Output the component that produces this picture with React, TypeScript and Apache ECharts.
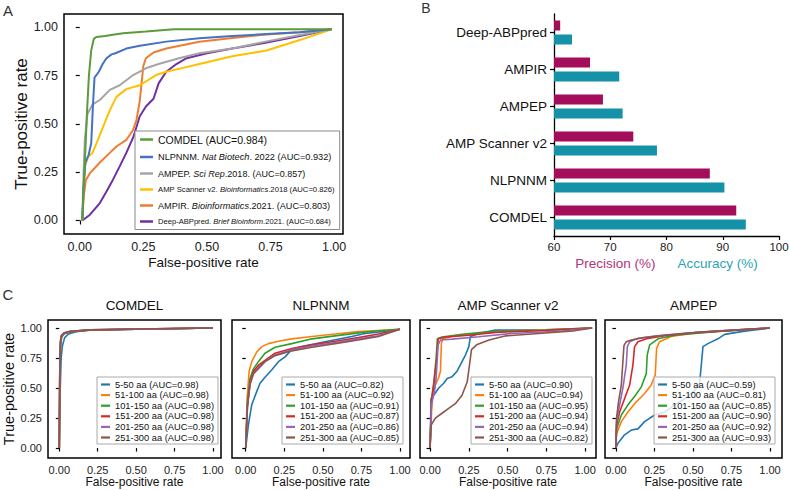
import React, { useEffect, useRef } from "react";
import * as echarts from "echarts";

const FONT = "'Liberation Sans', Arial, Helvetica, sans-serif";
const TICKS = [0, 0.25, 0.5, 0.75, 1];

// ---------------- Panel A ----------------
const A_COLORS = ["#5b9b3b", "#4472c4", "#a5a5a5", "#ffc000", "#ed7d31", "#7030a0"];
const A_LEGEND_PARTS: [string, string, string][] = [
  ["COMDEL (AUC=0.984)", "", ""],
  ["NLPNNM. ", "Nat Biotech", ". 2022 (AUC=0.932)"],
  ["AMPEP. ", "Sci Rep", ".2018. (AUC=0.857)"],
  ["AMP Scanner v2. ", "Bioinformatics", ".2018 (AUC=0.826)"],
  ["AMPIR. ", "Bioinformatics", ".2021. (AUC=0.803)"],
  ["Deep-ABPpred. ", "Brief Bioinform", ".2021. (AUC=0.684)"],
];
const A_LEGEND_FONT = [10.5, 9.2, 9.0, 7.7, 9.1, 7.6];

const A_COMDEL = [[0.01, 0], [0.015, 0.15], [0.02, 0.3], [0.028, 0.55], [0.036, 0.75], [0.045, 0.88], [0.055, 0.94], [0.065, 0.95], [0.1, 0.955], [0.13, 0.962], [0.17, 0.969], [0.26, 0.978], [0.37, 0.99], [0.6, 0.99], [0.99, 0.99]];
const A_NLPNNM = [[0.01, 0], [0.015, 0.18], [0.022, 0.3], [0.035, 0.34], [0.045, 0.4], [0.052, 0.6], [0.058, 0.74], [0.075, 0.77], [0.09, 0.81], [0.105, 0.84], [0.125, 0.86], [0.14, 0.866], [0.183, 0.89], [0.236, 0.905], [0.34, 0.926], [0.47, 0.943], [0.6, 0.955], [0.734, 0.965], [0.865, 0.975], [0.99, 0.99]];
const A_AMPEP = [[0.01, 0], [0.015, 0.25], [0.02, 0.42], [0.03, 0.55], [0.05, 0.6], [0.08, 0.625], [0.118, 0.676], [0.157, 0.7], [0.21, 0.753], [0.26, 0.788], [0.31, 0.81], [0.39, 0.84], [0.47, 0.866], [0.6, 0.89], [0.73, 0.926], [0.865, 0.96], [0.99, 0.99]];
const A_AMPSCANNER = [[0.01, 0], [0.015, 0.15], [0.02, 0.28], [0.033, 0.33], [0.05, 0.35], [0.066, 0.4], [0.092, 0.486], [0.118, 0.57], [0.144, 0.64], [0.183, 0.68], [0.236, 0.7], [0.3, 0.753], [0.34, 0.77], [0.406, 0.79], [0.47, 0.81], [0.6, 0.85], [0.734, 0.88], [0.865, 0.934], [0.99, 0.99]];
const A_AMPIR = [[0.01, 0], [0.015, 0.12], [0.024, 0.21], [0.04, 0.245], [0.079, 0.3], [0.118, 0.35], [0.144, 0.383], [0.183, 0.417], [0.21, 0.47], [0.223, 0.52], [0.236, 0.62], [0.243, 0.71], [0.25, 0.8], [0.26, 0.84], [0.29, 0.87], [0.34, 0.89], [0.47, 0.925], [0.6, 0.945], [0.71, 0.96], [0.865, 0.975], [0.99, 0.99]];
const A_DEEPABP = [[0.01, 0], [0.04, 0.03], [0.079, 0.09], [0.105, 0.15], [0.13, 0.21], [0.157, 0.28], [0.183, 0.35], [0.21, 0.43], [0.236, 0.54], [0.26, 0.59], [0.29, 0.63], [0.31, 0.71], [0.34, 0.77], [0.38, 0.81], [0.42, 0.84], [0.5, 0.866], [0.6, 0.89], [0.73, 0.92], [0.865, 0.955], [0.99, 0.99]];
const A_CURVES = [A_COMDEL, A_NLPNNM, A_AMPEP, A_AMPSCANNER, A_AMPIR, A_DEEPABP];

// ---------------- Panel B ----------------
const B_CATEGORIES = ["COMDEL", "NLPNNM", "AMP Scanner v2", "AMPEP", "AMPIR", "Deep-ABPpred"];
const B_PRECISION = [92.4, 87.7, 74.1, 68.7, 66.4, 61.1];
const B_ACCURACY = [94.1, 90.3, 78.3, 72.2, 71.6, 63.2];
const B_TICKS = [60, 70, 80, 90, 100];

// ---------------- Panel C ----------------
const C_TITLES = ["COMDEL", "NLPNNM", "AMP Scanner v2", "AMPEP"];
const C_RANGES = ["5-50 aa", "51-100 aa", "101-150 aa", "151-200 aa", "201-250 aa", "251-300 aa"];
const C_COLORS = ["#1f77b4", "#ff7f0e", "#2ca02c", "#d62728", "#9467bd", "#8c564b"];
const C_AUC = [
  ["0.98", "0.98", "0.98", "0.98", "0.98", "0.98"],
  ["0.82", "0.92", "0.91", "0.87", "0.86", "0.85"],
  ["0.90", "0.94", "0.95", "0.94", "0.94", "0.82"],
  ["0.59", "0.81", "0.85", "0.90", "0.92", "0.93"],
];
const C_COMDEL = [
  [[0, 0], [0.004, 0.4], [0.012, 0.75], [0.02, 0.85], [0.035, 0.92], [0.06, 0.95], [0.11, 0.97], [0.2, 0.983], [0.5, 0.99], [1, 1]],
  [[0, 0], [0.003, 0.6], [0.008, 0.88], [0.015, 0.93], [0.03, 0.955], [0.07, 0.97], [0.2, 0.985], [0.5, 0.992], [1, 1]],
  [[0, 0], [0.003, 0.55], [0.008, 0.86], [0.016, 0.925], [0.03, 0.95], [0.07, 0.968], [0.2, 0.983], [0.5, 0.99], [1, 1]],
  [[0, 0], [0.003, 0.6], [0.008, 0.87], [0.015, 0.93], [0.03, 0.955], [0.07, 0.97], [0.2, 0.984], [0.5, 0.991], [1, 1]],
  [[0, 0], [0.003, 0.62], [0.007, 0.88], [0.014, 0.935], [0.03, 0.957], [0.07, 0.972], [0.2, 0.985], [0.5, 0.991], [1, 1]],
  [[0, 0], [0.003, 0.65], [0.007, 0.89], [0.013, 0.94], [0.03, 0.96], [0.07, 0.973], [0.2, 0.985], [0.5, 0.992], [1, 1]],
];
const C_NLPNNM = [
  [[0, 0], [0.017, 0.19], [0.039, 0.36], [0.071, 0.47], [0.093, 0.54], [0.125, 0.59], [0.168, 0.65], [0.212, 0.72], [0.255, 0.76], [0.298, 0.82], [0.363, 0.845], [0.514, 0.886], [0.687, 0.93], [0.773, 0.955], [0.881, 0.97], [1, 0.99]],
  [[0, 0], [0.009, 0.41], [0.022, 0.64], [0.039, 0.72], [0.071, 0.8], [0.104, 0.845], [0.147, 0.87], [0.212, 0.89], [0.298, 0.91], [0.43, 0.93], [0.579, 0.95], [0.73, 0.97], [0.86, 0.98], [1, 0.99]],
  [[0, 0], [0.011, 0.39], [0.028, 0.58], [0.05, 0.66], [0.082, 0.72], [0.125, 0.79], [0.19, 0.84], [0.298, 0.87], [0.43, 0.91], [0.579, 0.935], [0.73, 0.96], [0.86, 0.978], [1, 0.99]],
  [[0, 0], [0.011, 0.36], [0.028, 0.55], [0.05, 0.64], [0.082, 0.69], [0.125, 0.73], [0.19, 0.79], [0.298, 0.83], [0.43, 0.86], [0.579, 0.89], [0.73, 0.92], [0.86, 0.95], [1, 0.99]],
  [[0, 0], [0.011, 0.35], [0.028, 0.54], [0.05, 0.62], [0.082, 0.66], [0.125, 0.72], [0.19, 0.775], [0.298, 0.82], [0.43, 0.85], [0.579, 0.88], [0.73, 0.91], [0.86, 0.935], [1, 0.99]],
  [[0, 0], [0.011, 0.34], [0.028, 0.53], [0.05, 0.62], [0.082, 0.67], [0.125, 0.72], [0.19, 0.77], [0.298, 0.81], [0.43, 0.84], [0.579, 0.87], [0.73, 0.9], [0.86, 0.93], [1, 0.99]],
];
const C_AMPSCANNER = [
  [[0, 0], [0.006, 0.41], [0.024, 0.44], [0.056, 0.5], [0.088, 0.54], [0.11, 0.58], [0.142, 0.595], [0.174, 0.64], [0.206, 0.72], [0.228, 0.775], [0.25, 0.845], [0.26, 0.93], [0.314, 0.955], [0.42, 0.983], [0.744, 0.986], [1.045, 1]],
  [[0, 0], [0.013, 0.41], [0.034, 0.525], [0.056, 0.59], [0.067, 0.64], [0.073, 0.87], [0.082, 0.91], [0.142, 0.93], [0.314, 0.955], [0.529, 0.975], [1.045, 1]],
  [[0, 0], [0.009, 0.41], [0.024, 0.55], [0.039, 0.75], [0.047, 0.91], [0.077, 0.925], [0.206, 0.947], [0.42, 0.975], [0.744, 0.983], [1.045, 1]],
  [[0, 0], [0.009, 0.39], [0.024, 0.525], [0.041, 0.72], [0.052, 0.91], [0.099, 0.925], [0.25, 0.94], [0.42, 0.964], [0.744, 0.98], [1.045, 1]],
  [[0, 0], [0.009, 0.36], [0.028, 0.47], [0.039, 0.58], [0.052, 0.86], [0.067, 0.9], [0.142, 0.908], [0.314, 0.928], [0.529, 0.955], [0.852, 0.975], [1.045, 1]],
  [[0, 0], [0.006, 0.19], [0.034, 0.25], [0.077, 0.29], [0.12, 0.33], [0.163, 0.37], [0.206, 0.44], [0.239, 0.55], [0.254, 0.69], [0.267, 0.82], [0.3, 0.86], [0.38, 0.9], [0.49, 0.935], [0.7, 0.955], [0.92, 0.975], [1.045, 1]],
];
const C_AMPEP = [
  [[0, 0], [0.013, 0.04], [0.056, 0.11], [0.1, 0.15], [0.143, 0.16], [0.186, 0.22], [0.251, 0.275], [0.316, 0.3], [0.381, 0.36], [0.446, 0.41], [0.511, 0.48], [0.543, 0.54], [0.554, 0.69], [0.565, 0.845], [0.597, 0.87], [0.662, 0.91], [0.706, 0.947], [0.814, 0.97], [0.9, 0.983], [1, 1]],
  [[0, 0], [0.004, 0.12], [0.035, 0.22], [0.078, 0.3], [0.121, 0.37], [0.186, 0.455], [0.229, 0.525], [0.255, 0.61], [0.264, 0.83], [0.283, 0.886], [0.359, 0.93], [0.489, 0.955], [0.706, 0.975], [1, 1]],
  [[0, 0], [0.004, 0.16], [0.035, 0.275], [0.078, 0.36], [0.121, 0.43], [0.165, 0.51], [0.197, 0.62], [0.203, 0.775], [0.219, 0.86], [0.273, 0.91], [0.381, 0.94], [0.641, 0.97], [1, 1]],
  [[0, 0], [0.004, 0.19], [0.024, 0.3], [0.056, 0.41], [0.089, 0.525], [0.11, 0.69], [0.121, 0.845], [0.143, 0.886], [0.208, 0.914], [0.316, 0.936], [0.532, 0.964], [1, 1]],
  [[0, 0], [0.004, 0.22], [0.024, 0.36], [0.045, 0.5], [0.067, 0.69], [0.074, 0.845], [0.089, 0.886], [0.143, 0.914], [0.251, 0.933], [0.424, 0.955], [0.641, 0.975], [1, 1]],
  [[0, 0], [0.004, 0.25], [0.017, 0.386], [0.035, 0.525], [0.048, 0.775], [0.052, 0.853], [0.067, 0.886], [0.1, 0.9], [0.165, 0.917], [0.316, 0.94], [0.532, 0.964], [1, 1]],
];
const C_CURVES = [C_COMDEL, C_NLPNNM, C_AMPSCANNER, C_AMPEP];

// layout of the four small panels
const C_LAYOUT = [
  { left: 48, width: 173, xmin: -0.0735, xmax: 1.052, legendRight: 571 },
  { left: 232, width: 178, xmin: -0.089, xmax: 1.065, legendRight: 386 },
  { left: 420, width: 176, xmin: -0.065, xmax: 1.07, legendRight: 197 },
  { left: 605, width: 177, xmin: -0.071, xmax: 1.078, legendRight: 14 },
];

function rocAxis(gridIndex: number, min: number, max: number, showLabel: boolean, fontSize: number, tickLen: number, extra: any) {
  return {
    type: "value",
    gridIndex,
    min,
    max,
    axisLine: { show: false },
    splitLine: { show: false },
    axisTick: { show: true, customValues: TICKS, length: tickLen, lineStyle: { color: "#000", width: 1.2 } },
    axisLabel: {
      show: showLabel,
      customValues: TICKS,
      formatter: (v: number) => v.toFixed(2),
      fontSize,
      color: "#222",
      fontFamily: FONT,
      margin: 6,
    },
    ...extra,
  };
}

export default function App() {
  const ref = useRef<HTMLDivElement>(null);
  useEffect(() => {
    if (!ref.current) return;
    const chart = echarts.init(ref.current, undefined, { renderer: "svg" });
    const A_NAMES = A_LEGEND_PARTS.map((p) => p.join(""));
    const aRich: any = {};
    A_LEGEND_FONT.forEach((fs, i) => {
      aRich["n" + i] = { fontSize: fs, fontFamily: FONT, color: "#111" };
      aRich["i" + i] = { fontSize: fs, fontFamily: FONT, color: "#111", fontStyle: "italic" };
    });

    const grids: any[] = [
      { left: 64, top: 14, width: 279, height: 220, show: true, borderColor: "#000", borderWidth: 1.5, backgroundColor: "transparent", outerBoundsMode: "none" },
      { left: 554, top: 14, width: 225, height: 222, show: false, outerBoundsMode: "none" },
    ];
    const xAxes: any[] = [
      rocAxis(0, -0.062, 1.035, true, 12.5, 4, {
        name: "False-positive rate",
        nameLocation: "middle",
        nameGap: 21,
        nameTextStyle: { fontSize: 13.5, fontFamily: FONT, color: "#111" },
      }),
      {
        type: "value",
        gridIndex: 1,
        min: 60,
        max: 100,
        interval: 10,
        axisLine: { show: true, onZero: false, lineStyle: { color: "#000", width: 1.3 } },
        axisTick: { show: true, length: 4, lineStyle: { color: "#000", width: 1.2 } },
        splitLine: { show: false },
        axisLabel: { fontSize: 11.5, color: "#222", fontFamily: FONT, margin: 5, customValues: B_TICKS },
        name: "{p|Precision (%)}{a|Accuracy (%)}",
        nameLocation: "middle",
        nameGap: 20,
        nameTextStyle: {
          rich: {
            p: { fontSize: 13.5, fontFamily: FONT, color: "#b3347a", padding: [0, 22, 0, 0] },
            a: { fontSize: 13.5, fontFamily: FONT, color: "#2ea1b8" },
          },
        },
      },
    ];
    const yAxes: any[] = [
      rocAxis(0, -0.07, 1.069, true, 12.5, 4, {
        name: "True-positive rate",
        nameLocation: "middle",
        nameRotate: 90,
        nameGap: 29,
        nameTextStyle: { fontSize: 17, fontFamily: FONT, color: "#111" },
      }),
      {
        type: "category",
        gridIndex: 1,
        data: B_CATEGORIES,
        axisLine: { show: true, onZero: false, lineStyle: { color: "#000", width: 1.3 } },
        axisTick: { show: true, alignWithLabel: true, length: 4, lineStyle: { color: "#000", width: 1.2 } },
        axisLabel: { fontSize: 13.5, color: "#111", fontFamily: FONT, margin: 7 },
        splitLine: { show: false },
      },
    ];
    const series: any[] = [];
    const legends: any[] = [];

    A_CURVES.forEach((d, i) => {
      series.push({
        type: "line",
        name: A_NAMES[i],
        xAxisIndex: 0,
        yAxisIndex: 0,
        data: d,
        symbol: "none",
        showSymbol: false,
        lineStyle: { color: A_COLORS[i], width: 2 },
        itemStyle: { color: A_COLORS[i] },
        emphasis: { disabled: true },
        z: 2 + (5 - i) * 0.01,
      });
    });
    legends.push({
      data: A_NAMES,
      orient: "vertical",
      left: 135,
      top: 131,
      padding: [3, 5, 4, 5],
      itemGap: 7.5,
      itemWidth: 13,
      itemHeight: 2.5,
      icon: "rect",
      selectedMode: false,
      borderColor: "#8a8a8a",
      borderWidth: 1,
      backgroundColor: "#fff",
      textStyle: { rich: aRich },
      formatter: (name: string) => {
        const i = A_NAMES.indexOf(name);
        const [pre, ital, post] = A_LEGEND_PARTS[i];
        let s = `{n${i}|${pre}}`;
        if (ital) s += `{i${i}|${ital}}`;
        if (post) s += `{n${i}|${post}}`;
        return s;
      },
    });

    series.push({
      type: "bar",
      name: "Precision (%)",
      xAxisIndex: 1,
      yAxisIndex: 1,
      data: B_PRECISION,
      barWidth: 10,
      barGap: "40%",
      itemStyle: { color: "#a30d5a" },
      emphasis: { disabled: true },
    });
    series.push({
      type: "bar",
      name: "Accuracy (%)",
      xAxisIndex: 1,
      yAxisIndex: 1,
      data: B_ACCURACY,
      barWidth: 10,
      barGap: "40%",
      itemStyle: { color: "#1592a8" },
      emphasis: { disabled: true },
    });

    C_LAYOUT.forEach((L, p) => {
      const gi = 2 + p;
      grids.push({ left: L.left, top: 320, width: L.width, height: 138, show: true, borderColor: "#000", borderWidth: 1.5, backgroundColor: "transparent", outerBoundsMode: "none" });
      xAxes.push(
        rocAxis(gi, L.xmin, L.xmax, true, 11, 3.5, {
          name: "False-positive rate",
          nameLocation: "middle",
          nameGap: 17,
          nameTextStyle: { fontSize: 12, fontFamily: FONT, color: "#111" },
        })
      );
      yAxes.push(
        rocAxis(gi, -0.083, 1.067, p === 0, 11, 3.5,
          p === 0
            ? {
                name: "True-positive rate",
                nameLocation: "middle",
                nameRotate: 90,
                nameGap: 26,
                nameTextStyle: { fontSize: 14.5, fontFamily: FONT, color: "#111" },
              }
            : {}
        )
      );
      const names: string[] = [];
      C_CURVES[p].forEach((d, k) => {
        const nm = `${C_RANGES[k]} (AUC=${C_AUC[p][k]})`;
        names.push(nm);
        series.push({
          type: "line",
          name: nm,
          xAxisIndex: gi,
          yAxisIndex: gi,
          data: d,
          symbol: "none",
          showSymbol: false,
          lineStyle: { color: C_COLORS[k], width: 1.6 },
          itemStyle: { color: C_COLORS[k] },
          emphasis: { disabled: true },
        });
      });
      legends.push({
        data: names,
        orient: "vertical",
        right: L.legendRight,
        top: 377,
        padding: [3, 4, 2, 4],
        itemGap: 1.6,
        itemWidth: 9,
        itemHeight: 2.2,
        icon: "rect",
        selectedMode: false,
        borderColor: "#aaa",
        borderWidth: 1,
        backgroundColor: "rgba(255,255,255,0.8)",
        textStyle: { fontSize: 9.3, fontFamily: FONT, color: "#111" },
      });
    });

    const txt = (x: number, y: number, text: string, fontSize: number, fill = "#222") => ({
      type: "text",
      x,
      y,
      style: { text, fontSize, fontFamily: FONT, fill, align: "center", verticalAlign: "middle" },
      z: 100,
    });

    const graphic: any[] = [
      txt(8, 10, "A", 15, "#333"),
      txt(426, 8, "B", 14, "#333"),
      txt(8, 294, "C", 15, "#333"),
    ];
    C_LAYOUT.forEach((L, p) => graphic.push(txt(L.left + L.width / 2, 305, C_TITLES[p], 13.5, "#111")));

    chart.setOption({
      animation: false,
      backgroundColor: "#fff",
      textStyle: { fontFamily: FONT },
      grid: grids,
      xAxis: xAxes,
      yAxis: yAxes,
      legend: legends,
      series,
      graphic,
    });
    return () => chart.dispose();
  }, []);
  return (
    <div
      ref={ref}
      style={{ position: "fixed", left: 0, top: 0, width: 789, height: 490, background: "#fff" }}
    />
  );
}
